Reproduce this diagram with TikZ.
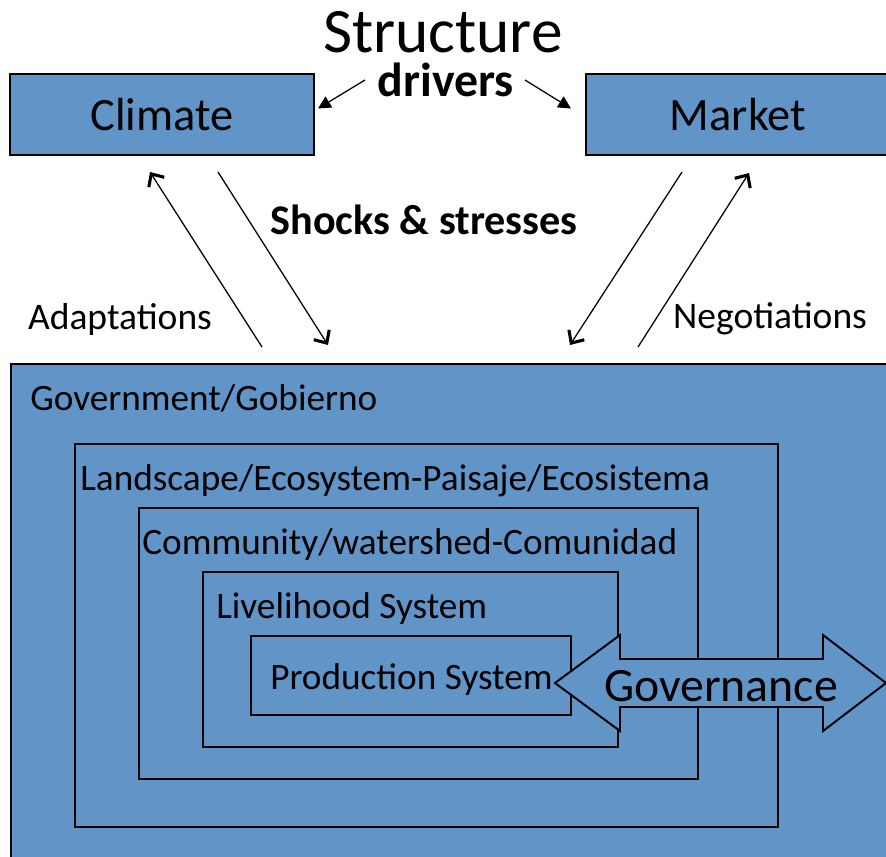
\documentclass[tikz,border=0pt]{standalone}
\usepackage{fontspec}
\setmainfont{Carlito}
\usepackage{tikz}
\usetikzlibrary{arrows.meta,
                calc,
                positioning}
\definecolor{boxblue}{RGB}{97,149,200}
\tikzset{
	%Define standard arrow tip
	>={Straight Barb[length=7pt,width=13pt,line width=2.2pt]},
	%Define style for the top boxes
	drvbox/.style={
	       rectangle,
	       draw=black, line width=1.4pt,
	       fill=boxblue,
	       minimum width=7.6cm,
	       minimum height=2.025cm,
	       inner sep=0pt,
	       font=\fontsize{33}{36}\selectfont},
	%Define style for the nested boxes
	layer/.style={
	       rectangle,
	       draw=black, line width=1.4pt,
	       fill=boxblue,
	       anchor=north west,
	       inner sep=0pt},
	laytxt/.style={
	       anchor=base west,
	       inner sep=0pt,
	       font=\fontsize{26.5}{30}\selectfont},
	sidetxt/.style={
	       inner sep=0pt,
	       font=\fontsize{26.7}{30}\selectfont},
	% Define arrow styles
	pil/.style={
	       ->,
	       line width=0.9pt},
	drv/.style={
	       -{Triangle[length=9pt,width=9pt]},
	       line width=0.9pt}
}

\begin{document}
\begin{tikzpicture}[x=0.025cm, y=-0.025cm]
	\useasboundingbox (0,0) rectangle (886,856);
	% drivers
	\node[inner sep=0pt, font=\fontsize{45}{50}\selectfont](structure) at (443,32){Structure};
	\node[inner sep=0pt, font=\bfseries\fontsize{34}{38}\selectfont](drivers) at (446,80){drivers};
	\node[drvbox](climate) at (162,114.5){\raisebox{-3pt}{Climate}};
	\node[drvbox](market) at (738,114.5){\raisebox{-3pt}{Market}};
	\draw[drv] (365,80) -- ($(climate.east)+(3,-6)$);
	\draw[drv] (525,80) -- ($(market.west)+(-14,-6)$);
	% layers
	\node[layer, minimum width=22.25cm, minimum height=12.675cm](gov) at (10,363){};
	\node[laytxt](gov_label) at ($(gov.north west)+(20,47)$){Government/Gobierno};
	\node[layer, minimum width=17.575cm, minimum height=9.575cm](land) at (74,443){};
	\node[laytxt](land_label) at ($(land.north west)+(6,47)$){Landscape/Ecosystem-Paisaje/Ecosistema};
	\node[layer, minimum width=13.975cm, minimum height=6.775cm](comm) at (138,507){};
	\node[laytxt](comm_label) at ($(comm.north west)+(4,47)$){Community/watershed-Comunidad};
	\node[layer, minimum width=10.375cm, minimum height=4.375cm](live) at (202,571){};
	\node[laytxt](live_label) at ($(live.north west)+(14,47)$){Livelihood System};
	\node[layer, minimum width=8cm, minimum height=1.975cm](prod) at (250,635){};
	\node[laytxt](prod_label) at ($(prod.north west)+(20,54)$){Production System};
	% governance
	\draw[draw=black, line width=1.4pt, fill=boxblue]
		(555,683) -- (620,635) -- (620,659) -- (823,659) -- (823,635) -- (886,683)
		-- (823,731) -- (823,707) -- (620,707) -- (620,731) -- cycle;
	\node[inner sep=0pt, font=\fontsize{34}{38}\selectfont](governance) at (721,686){Governance};
	% shocks and responses
	\node[inner sep=0pt, font=\bfseries\fontsize{30}{34}\selectfont](shocks) at (424,220){Shocks \& stresses};
	\node[sidetxt](adapt) at (120,319){Adaptations};
	\node[sidetxt](nego) at (770,319){Negotiations};
	\coordinate (a0) at (262,347);
	\coordinate (a1) at (150,172);
	\coordinate (s0) at (218,172);
	\coordinate (s1) at (328,345);
	\coordinate (m0) at (682,172);
	\coordinate (m1) at (570,345);
	\coordinate (n0) at (638,347);
	\coordinate (n1) at (749,173);
	\draw[pil] (a0) -- (a1);
	\draw[pil] (s0) -- (s1);
	\draw[pil] (m0) -- (m1);
	\draw[pil] (n0) -- (n1);
\end{tikzpicture}
\end{document}
